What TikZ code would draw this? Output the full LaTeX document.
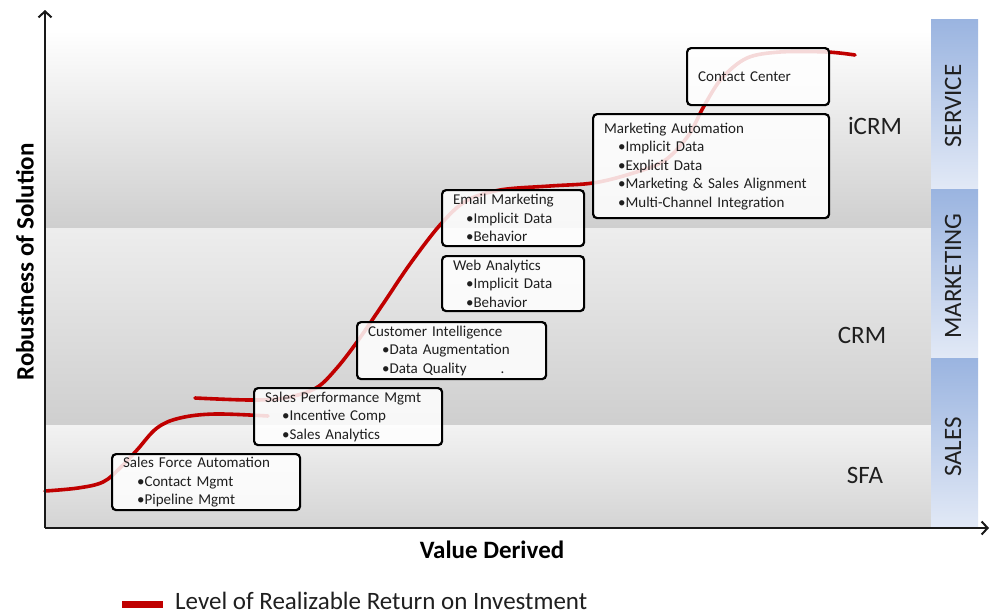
\documentclass[tikz,border=0pt]{standalone}
\usepackage{fontspec}
\setmainfont{Carlito}
\usetikzlibrary{arrows.meta,calc}
\definecolor{crv}{HTML}{C00000}
\definecolor{bluetop}{HTML}{9AB4E0}
\definecolor{bluebot}{HTML}{E2E9F6}
\definecolor{txt}{HTML}{1F1F1F}
\begin{document}
\begin{tikzpicture}[x=1pt,y=-1pt,
  box/.style={draw=black, line width=2.2pt, rounded corners=4pt, fill=white,
    fill opacity=0.85, text opacity=1, align=left, inner xsep=11pt, inner ysep=2pt,
    anchor=north west, font=\fontsize{15}{18.5}\selectfont, text=txt},
  zone/.style={font=\fontsize{25}{28}\selectfont, text=txt, inner sep=0pt},
  side/.style={font=\fontsize{25}{28}\selectfont, text=txt, rotate=90, inner sep=0pt},
  axlab/.style={font=\bfseries\fontsize{25}{28}\selectfont, text=black, inner sep=0pt},
  axis/.style={line width=2.4pt, draw=black!90, -{Straight Barb[length=6pt,width=13pt,line width=2pt]}},
  roi/.style={draw=crv, line width=3.6pt, line cap=round}
]
\useasboundingbox (0,0) rectangle (994,614);
\fill[white] (0,0) rectangle (994,614);
% background bands
\shade[top color=white, bottom color=black!19] (45,30) rectangle (931,228);
\shade[top color=black!7, bottom color=black!19] (45,228) rectangle (931,425);
\shade[top color=black!5, bottom color=black!17] (45,425) rectangle (931,528);
% side bars
\shade[top color=bluetop, bottom color=bluebot] (931,19) rectangle (978,189);
\shade[top color=bluetop, bottom color=bluebot] (931,189) rectangle (978,358);
\shade[top color=bluetop, bottom color=bluebot] (931,358) rectangle (978,528);
\node[side] (service) at (953,106) {SERVICE};
\node[side] (marketing) at (953,276) {MARKETING};
\node[side] (sales) at (953,447) {SALES};
% zone labels
\node[zone] (icrm) at (875,126) {iCRM};
\node[zone] (crm) at (862,335) {CRM};
\node[zone] (sfa) at (865,475) {SFA};
% ROI curve
\draw[roi] plot[smooth, tension=0.6] coordinates {(45,491) (78,488) (103,482) (120,468) (137,450) (157,428) (180,418) (215,414) (268,416)};
\draw[roi] plot[smooth, tension=0.55] coordinates {(195,398) (250,400) (285,398) (316,388) (336,369) (357,342) (383,304) (410,264) (440,225) (466,201) (500,190) (550,186) (593,183) (630,174) (664,161) (688,136) (704,106) (722,78) (747,58) (780,52) (827,52) (855,55)};
% boxes
\node[box, text width=120pt, minimum height=57pt] (cc) at (686,47) {Contact Center};
\node[box, text width=214pt, minimum height=104pt] (ma) at (592,113) {Marketing Automation\\\hspace*{14pt}•Implicit Data\\\hspace*{14pt}•Explicit Data\\\hspace*{14pt}•Marketing \& Sales Alignment\\\hspace*{14pt}•Multi-Channel Integration};
\node[box, text width=120pt, minimum height=56pt] (em) at (441,189) {Email Marketing\\\hspace*{13pt}•Implicit Data\\\hspace*{13pt}•Behavior};
\node[box, text width=120pt, minimum height=55pt] (wa) at (441,255) {Web Analytics\\\hspace*{13pt}•Implicit Data\\\hspace*{13pt}•Behavior};
\node[box, text width=167pt, minimum height=57pt] (ci) at (356,321) {Customer Intelligence\\\hspace*{14pt}•Data Augmentation\\\hspace*{14pt}•Data Quality\hspace*{34pt}.};
\node[box, text width=166pt, minimum height=57pt] (spm) at (253,387) {Sales Performance Mgmt\\\hspace*{17pt}•Incentive Comp\\\hspace*{17pt}•Sales Analytics};
\node[box, text width=166pt, minimum height=56pt] (sfab) at (111,453) {Sales Force Automation\\\hspace*{14pt}•Contact Mgmt\\\hspace*{14pt}•Pipeline Mgmt};
% axes
\coordinate (o) at (45,528);
\coordinate (ytop) at (45,10);
\coordinate (xend) at (989,528);
\draw[axis] (o) -- (ytop);
\draw[axis] (o) -- (xend);
\node[axlab, rotate=90] (ylab) at (25,262) {Robustness of Solution};
\node[axlab] (xlab) at (492,550) {Value Derived};
% legend
\coordinate (l1) at (122,604);
\coordinate (l2) at (163,604);
\draw[draw=crv, line width=7pt] (l1) -- (l2);
\node[anchor=base west, inner sep=0pt, font=\fontsize{25}{28}\selectfont, text=txt] (leg) at (175,609) {Level of Realizable Return on Investment};
\end{tikzpicture}
\end{document}
